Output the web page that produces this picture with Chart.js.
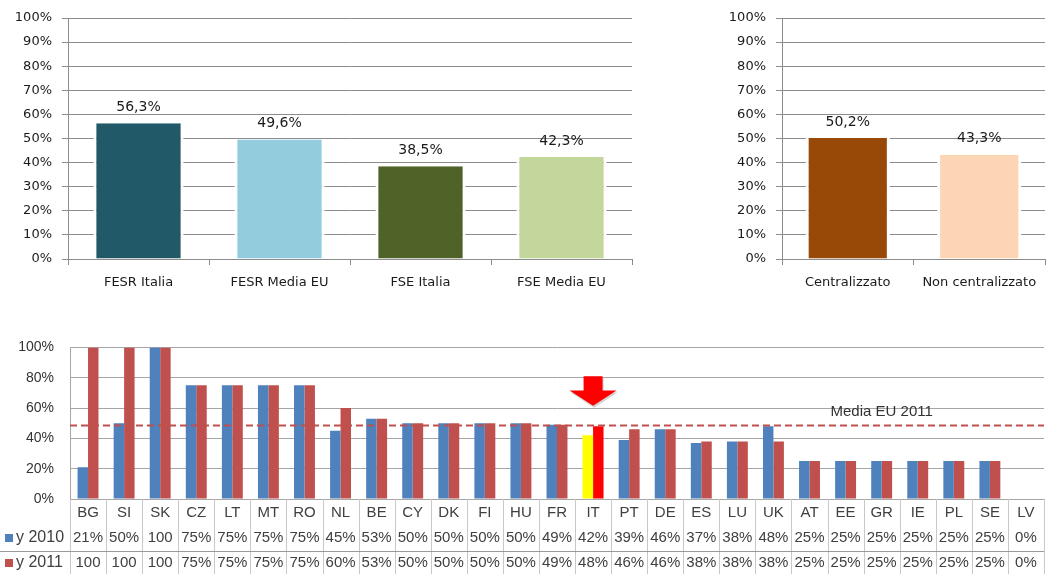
<!DOCTYPE html>
<html><head><meta charset="utf-8">
<script src="https://cdn.jsdelivr.net/npm/chart.js@4"></script>
<style>
html,body{margin:0;padding:0;background:#fff;width:1047px;height:574px;overflow:hidden;position:relative}
.box{position:absolute}
</style></head><body>
<div class="box" style="left:0;top:0;width:645px;height:300px"><canvas id="c1"></canvas></div>
<div class="box" style="left:700px;top:0;width:347px;height:300px"><canvas id="c2"></canvas></div>
<div class="box" style="left:0;top:323px;width:1047px;height:251px"><canvas id="c3"></canvas></div>
<script>
// ---- data ----
const fondiLabels = ['FESR Italia', 'FESR Media EU', 'FSE Italia', 'FSE Media EU'];
const fondiValues = [56.3, 49.6, 38.5, 42.3];
const fondiColors = ['#215968', '#93CDDD', '#4F6228', '#C3D69B'];

const gestioneLabels = ['Centralizzato', 'Non centralizzato'];
const gestioneValues = [50.2, 43.3];
const gestioneColors = ['#984807', '#FCD5B5'];

const countries = ['BG','SI','SK','CZ','LT','MT','RO','NL','BE','CY','DK','FI','HU','FR','IT','PT','DE','ES','LU','UK','AT','EE','GR','IE','PL','SE','LV'];
const y2010 = [21,50,100,75,75,75,75,45,53,50,50,50,50,49,42,39,46,37,38,48,25,25,25,25,25,25,0];
const y2011 = [100,100,100,75,75,75,75,60,53,50,50,50,50,49,48,46,46,38,38,38,25,25,25,25,25,25,0];
const seriesNames = ['y 2010', 'y 2011'];
const mediaEU2011 = 48.5;
const mediaLabel = 'Media EU 2011';
const highlight = 'IT';

const fmtPct = v => v.toFixed(1).replace('.', ',') + '%';
const fmtTable = v => v === 100 ? '100' : v + '%';

Chart.defaults.animation = false;
Chart.defaults.plugins.legend.display = false;
Chart.defaults.plugins.tooltip.enabled = false;

const GRID = '#8c8c8c';
const TXT = '#1a1a1a';
const TOPFONT = 'DejaVu Sans';

const valueLabels = {
  id: 'valueLabels',
  afterDatasetsDraw(chart) {
    const ctx = chart.ctx;
    const ds = chart.data.datasets[0];
    ctx.save();
    ctx.fillStyle = TXT;
    ctx.font = '14px "' + TOPFONT + '"';
    ctx.textAlign = 'center';
    ctx.textBaseline = 'middle';
    chart.getDatasetMeta(0).data.forEach((el, i) => {
      ctx.fillText(fmtPct(ds.data[i]), el.x, el.y - 16);
    });
    ctx.restore();
  }
};

function makeTop(id, labels, values, colors, yWidth, rightPad) {
  return new Chart(document.getElementById(id), {
    type: 'bar',
    data: { labels: labels, datasets: [{
      data: values, backgroundColor: colors, borderColor: '#ffffff',
      borderWidth: {left: 3, right: 3, top: 0, bottom: 0}, borderSkipped: false,
      categoryPercentage: 0.64, barPercentage: 1 }] },
    options: {
      responsive: true, maintainAspectRatio: false,
      layout: { padding: { top: 18, right: rightPad, left: 0, bottom: 0 } },
      scales: {
        y: {
          min: 0, max: 100,
          ticks: { stepSize: 10, callback: v => v + '%', color: TXT, padding: 10,
                   font: { family: TOPFONT, size: 13 } },
          grid: { color: GRID, tickLength: 6, tickColor: GRID },
          border: { display: true, color: GRID },
          afterFit: s => { s.width = yWidth; }
        },
        x: {
          ticks: { color: TXT, padding: 10, font: { family: TOPFONT, size: 13 } },
          grid: { drawOnChartArea: false, tickLength: 6, color: GRID, offset: true },
          border: { display: true, color: GRID },
          afterFit: s => { s.height = 41; }
        }
      }
    },
    plugins: [valueLabels]
  });
}

makeTop('c1', fondiLabels, fondiValues, fondiColors, 68, 13);
makeTop('c2', gestioneLabels, gestioneValues, gestioneColors, 82, 2);

// ---- bottom chart ----
const BFONT = 'Liberation Sans';
const tableAndNotes = {
  id: 'tableAndNotes',
  afterDatasetsDraw(chart) {
    const ctx = chart.ctx;
    const xs = chart.scales.x, ys = chart.scales.y;
    const ca = chart.chartArea;
    // media line
    const my = ys.getPixelForValue(mediaEU2011);
    ctx.save();
    ctx.strokeStyle = '#C0504D';
    ctx.lineWidth = 2;
    ctx.setLineDash([7, 4]);
    ctx.beginPath(); ctx.moveTo(ca.left, my); ctx.lineTo(ca.right, my); ctx.stroke();
    ctx.setLineDash([]);
    // media label
    ctx.fillStyle = '#333';
    ctx.font = '15px "' + BFONT + '"';
    ctx.textAlign = 'center'; ctx.textBaseline = 'middle';
    ctx.fillText(mediaLabel, xs.getPixelForValue(countries.indexOf('GR')), ys.getPixelForValue(57.6));
    // arrow above highlighted country
    const ax = xs.getPixelForValue(countries.indexOf(highlight));
    const aTop = ys.getPixelForValue(81), aMid = ys.getPixelForValue(71.5), aTip = ys.getPixelForValue(61.5);
    ctx.fillStyle = 'rgba(0,0,0,0.18)';
    const drawArrow = (dx, dy) => {
      ctx.beginPath();
      ctx.moveTo(ax - 9.5 + dx, aTop + dy); ctx.lineTo(ax + 9.5 + dx, aTop + dy);
      ctx.lineTo(ax + 9.5 + dx, aMid + dy); ctx.lineTo(ax + 23.5 + dx, aMid + dy);
      ctx.lineTo(ax + dx, aTip + dy); ctx.lineTo(ax - 23.5 + dx, aMid + dy);
      ctx.lineTo(ax - 9.5 + dx, aMid + dy); ctx.closePath(); ctx.fill();
    };
    drawArrow(1, 2);
    ctx.fillStyle = '#FF0000';
    drawArrow(0, 0);
    ctx.restore();
  },
  afterDraw(chart) {
    const ctx = chart.ctx;
    const xs = chart.scales.x;
    const ca = chart.chartArea;
    const half = (xs.getPixelForValue(1) - xs.getPixelForValue(0)) / 2;
    const H = chart.height;
    ctx.save();
    // vertical separators
    ctx.strokeStyle = '#c8c8c8'; ctx.lineWidth = 1;
    for (let i = 0; i <= countries.length; i++) {
      const bx = Math.round(xs.getPixelForValue(i) - half) + 0.5;
      ctx.beginPath(); ctx.moveTo(bx, ca.bottom); ctx.lineTo(bx, H); ctx.stroke();
    }
    // horizontal separator between series rows
    ctx.strokeStyle = '#9a9a9a';
    ctx.beginPath(); ctx.moveTo(0, ca.bottom + 52.5); ctx.lineTo(ca.right, ca.bottom + 52.5); ctx.stroke();
    // texts
    ctx.fillStyle = '#404040';
    ctx.font = '15px "' + BFONT + '"';
    ctx.textAlign = 'center'; ctx.textBaseline = 'middle';
    const rows = [ca.bottom + 14, ca.bottom + 39, ca.bottom + 64];
    countries.forEach((c, i) => {
      const cx = xs.getPixelForValue(i);
      ctx.fillText(c, cx, rows[0]);
      ctx.fillText(fmtTable(y2010[i]), cx, rows[1]);
      ctx.fillText(fmtTable(y2011[i]), cx, rows[2]);
    });
    // legend keys
    const keyCols = ['#4F81BD', '#C0504D'];
    ctx.font = '16px "' + BFONT + '"';
    seriesNames.forEach((n, k) => {
      ctx.fillStyle = keyCols[k];
      ctx.fillRect(5, rows[k + 1] - 4, 8, 8);
      ctx.fillStyle = '#404040';
      ctx.textAlign = 'left';
      ctx.fillText(n, 16, rows[k + 1]);
    });
    ctx.restore();
  }
};

new Chart(document.getElementById('c3'), {
  type: 'bar',
  data: {
    labels: countries,
    datasets: [
      { label: seriesNames[0], data: y2010,
        backgroundColor: countries.map(c => c === highlight ? '#FFFF00' : '#4F81BD'),
        categoryPercentage: 0.58, barPercentage: 1 },
      { label: seriesNames[1], data: y2011,
        backgroundColor: countries.map(c => c === highlight ? '#FF0000' : '#C0504D'),
        categoryPercentage: 0.58, barPercentage: 1 }
    ]
  },
  options: {
    responsive: true, maintainAspectRatio: false,
    layout: { padding: { top: 10, right: 3, left: 0, bottom: 0 } },
    scales: {
      y: {
        min: 0, max: 100,
        ticks: { stepSize: 20, callback: v => v + '%', color: '#333', padding: 16,
                 font: { family: BFONT, size: 14 } },
        grid: { color: '#a6a6a6', drawTicks: false },
        border: { display: true, color: '#a6a6a6' },
        afterFit: s => { s.width = 70; }
      },
      x: {
        ticks: { display: false },
        grid: { display: false },
        border: { display: false },
        afterFit: s => { s.height = 75; }
      }
    }
  },
  plugins: [tableAndNotes]
});
</script>
</body></html>
